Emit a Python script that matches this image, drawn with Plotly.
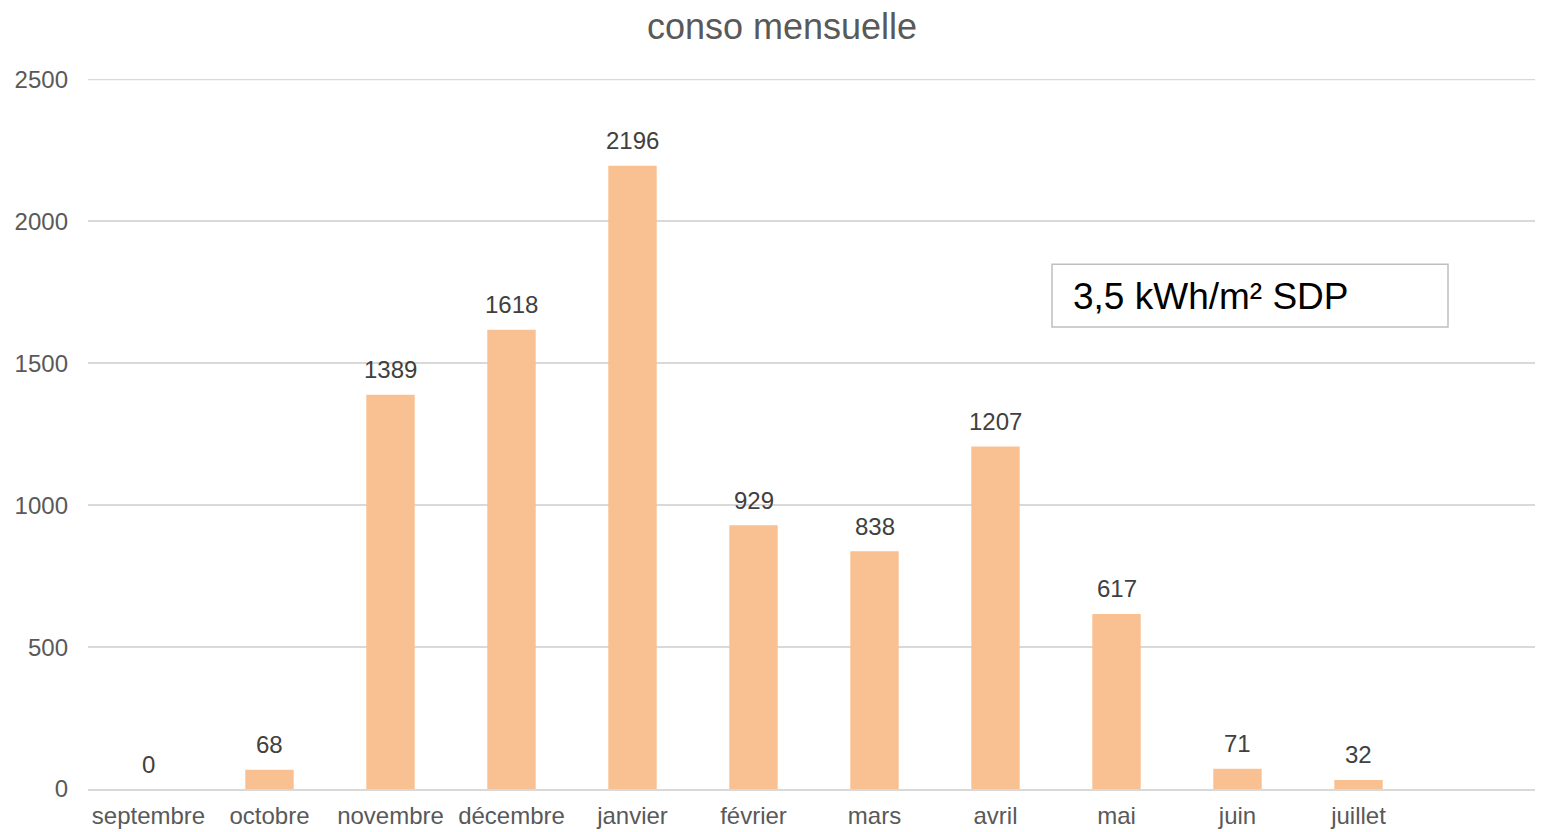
import plotly.graph_objects as go

months = ["septembre", "octobre", "novembre", "décembre", "janvier", "février",
          "mars", "avril", "mai", "juin", "juillet"]
conso = [0, 68, 1389, 1618, 2196, 929, 838, 1207, 617, 71, 32]
y_ticks = [0, 500, 1000, 1500, 2000, 2500]
title_text = "conso mensuelle"
box_text = "3,5 kWh/m² SDP"

FONT = "Arial, Liberation Sans, sans-serif"
OFF = 8  # page body margin
W, H = 1543 - OFF, 832 - OFF
PL, PR, PT, PB = 88, 1540, 79, 792  # plot area in page pixels
ADJ_B = 3

fig = go.Figure()
fig.add_trace(go.Bar(
    x=months, y=conso,
    marker=dict(color="#F9C191", line=dict(width=0)),
    width=0.4,
    cliponaxis=False,
    hoverinfo="x+y",
))

for m, v in zip(months, conso):
    fig.add_annotation(x=m, y=v, text=str(v), showarrow=False,
                       yanchor="middle", yshift=25,
                       font=dict(family=FONT, size=24, color="#404040"))

fig.update_layout(
    width=W, height=H,
    margin=dict(l=PL - OFF, r=max(W - (PR - OFF), 0), t=PT - OFF,
                b=H - (PB - OFF) - ADJ_B, pad=0),
    paper_bgcolor="white", plot_bgcolor="white",
    showlegend=False,
    title=dict(text=title_text, x=(782 - OFF) / W, xanchor="center",
               y=1 - (26 - OFF) / H, yanchor="middle", yref="container",
               font=dict(family=FONT, size=36, color="#595959")),
    font=dict(family=FONT, size=24, color="#595959"),
    xaxis=dict(range=[-0.5, 11.5], showgrid=False, showline=True,
               linecolor="#D9D9D9", linewidth=2, ticks="",
               tickfont=dict(family=FONT, size=24, color="#595959"),
               ticklabelstandoff=4),
    yaxis=dict(range=[0, 2502], tickvals=y_ticks, showgrid=True,
               gridcolor="#D9D9D9", gridwidth=1.5, zeroline=False,
               showline=False, ticks="",
               tickfont=dict(family=FONT, size=24, color="#595959"),
               ticklabelstandoff=19),
)

# top gridline (at the last tick) which plotly drops at the plot edge
fig.add_shape(type="line", xref="paper", yref="y", x0=0, x1=1,
              y0=y_ticks[-1], y1=y_ticks[-1],
              line=dict(color="#D9D9D9", width=1.5), layer="below")

fig.add_shape(type="rect", xref="paper", yref="paper",
              x0=(1052 - PL) / (PR - PL), x1=(1448 - PL) / (PR - PL),
              y0=(PB - 328) / (PB - PT), y1=(PB - 265) / (PB - PT),
              line=dict(color="#BFBFBF", width=1.5), fillcolor="white", layer="above")
fig.add_annotation(text=box_text, xref="paper", yref="paper",
                   x=(1071 - PL) / (PR - PL), y=(PB - 297) / (PB - PT),
                   xanchor="left", yanchor="middle", showarrow=False,
                   font=dict(family=FONT, size=37, color="#000000"))

fig.write_html("out.html")
